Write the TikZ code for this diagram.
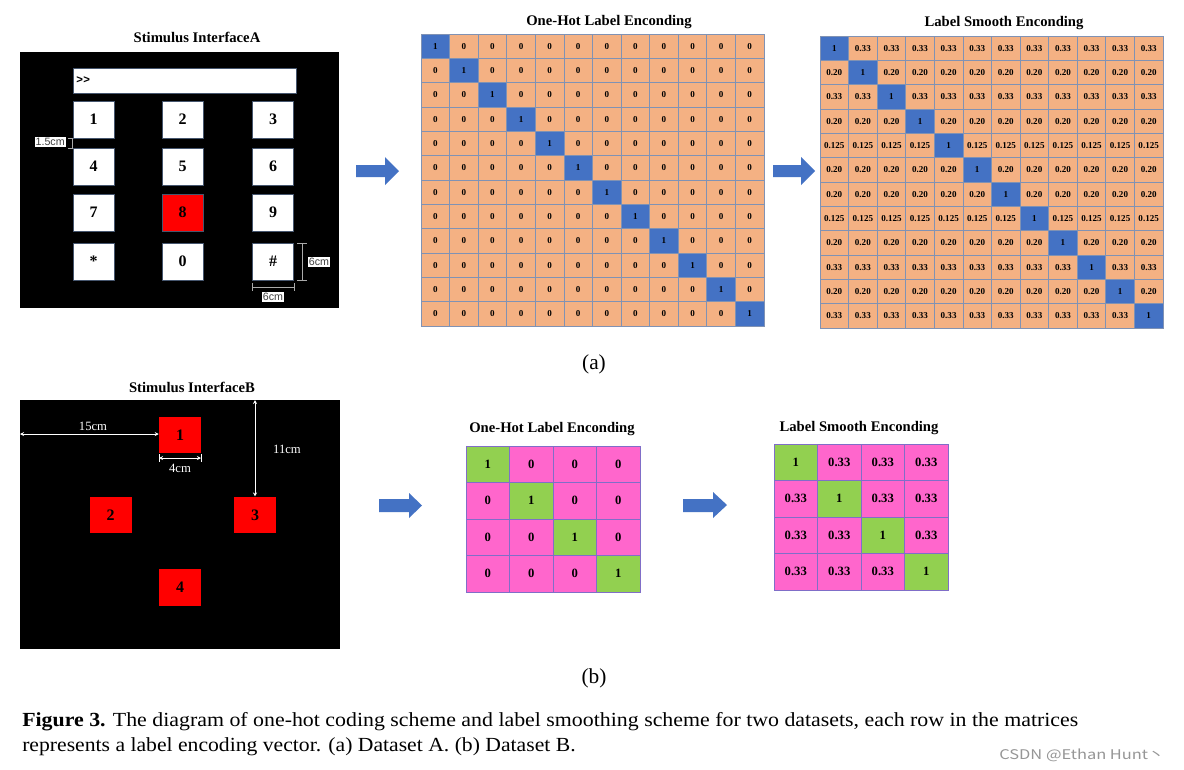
\documentclass[tikz,border=0pt]{standalone}
\usepackage{graphicx}
\usepackage{fontspec}
\setmainfont{Liberation Serif}
\setsansfont{Liberation Sans}
\newfontfamily\cjkfont{Noto Sans CJK SC}
\usetikzlibrary{arrows.meta}
\definecolor{orangeA}{HTML}{F4B183}
\definecolor{blueA}{HTML}{4472C4}
\definecolor{gridA}{RGB}{128,146,180}
\definecolor{pinkB}{RGB}{255,102,204}
\definecolor{greenB}{HTML}{92D050}
\definecolor{gridB}{RGB}{128,110,200}
\definecolor{keyedge}{RGB}{70,86,110}
\definecolor{arrowblue}{HTML}{4472C4}
\definecolor{dimgray}{RGB}{170,170,170}
\definecolor{wmgray}{RGB}{150,150,150}
\begin{document}
\begin{tikzpicture}[x=0.75pt,y=-0.75pt,
  panel/.style={fill=black,draw=none,inner sep=0pt,anchor=north west},
  title/.style={font=\fontsize{11}{13}\selectfont\bfseries,inner sep=0pt},
  keybox/.style={draw=keyedge,line width=0.5pt,minimum width=31pt,minimum height=28pt,inner sep=0pt,font=\fontsize{12}{14}\selectfont\bfseries},
  sqB/.style={fill=red,draw=none,minimum width=31.5pt,minimum height=27.4pt,inner sep=0pt,font=\fontsize{12}{14}\selectfont\bfseries},
  cellA/.style={draw=gridA,line width=0.5pt,minimum width=21.44pt,minimum height=18.25pt,inner sep=0pt,font=\fontsize{6.8}{7}\selectfont\bfseries},
  cellB/.style={draw=gridB,line width=0.5pt,minimum width=32.6pt,minimum height=27.4pt,inner sep=0pt,font=\fontsize{9.5}{11}\selectfont\bfseries},
  dimlabel/.style={fill=white,inner sep=0.8pt,font=\sffamily\fontsize{8}{9}\selectfont,text=black!75},
  dimline/.style={draw=dimgray,line width=0.6pt},
  wdim/.style={draw=white,line width=0.6pt,{Stealth[length=3pt,width=3pt]}-{Stealth[length=3pt,width=3pt]}},
  wlabel/.style={text=white,inner sep=0pt,font=\fontsize{9.5}{11}\selectfont},
  sublabel/.style={inner sep=0pt,font=\fontsize{16}{18}\selectfont},
  blockarrow/.style={fill=arrowblue,draw=none}
]
\useasboundingbox (0,0) rectangle (1184,769);
\fill[white] (0,0) rectangle (1184,769);

% ---------------- Interface A ----------------
\node[title] (titA) at (197,37) {Stimulus InterfaceA};
\node[panel,minimum width=239.25pt,minimum height=192pt] (ifA) at (20,52) {};
\node[fill=white,draw=keyedge,line width=0.5pt,anchor=north west,minimum width=167.25pt,minimum height=18.75pt,inner sep=0pt] (bar) at (73,68) {};
\node[anchor=west,inner sep=0pt,font=\sffamily\bfseries\fontsize{8.5}{9}\selectfont] (prompt) at (76,80.5) {>\kern0.3pt>};
\foreach \i/\lab/\x/\y/\f in {1/1/93.5/119.5/white,2/2/182.5/119.5/white,3/3/273/119.5/white,
  4/4/93.5/166.5/white,5/5/182.5/166.5/white,6/6/273/166.5/white,
  7/7/93.5/212.5/white,8/8/182.5/212.5/red,9/9/273/212.5/white,
  10/*/93.5/261.5/white,11/0/182.5/261.5/white,12/\#/273/261.5/white}
  \node[keybox,fill=\f] (key\i) at (\x,\y) {\lab};
% dimension marks
\draw[dimline] (68,138) -- (72,138) -- (72,148) -- (68,148);
\node[dimlabel,anchor=east] (l15) at (66,142) {1.5cm};
\draw[dimline] (297,243) -- (307,243) (302,243) -- (302,280) (297,280) -- (307,280);
\node[dimlabel] (l6v) at (319,262) {6cm};
\draw[dimline] (252,283) -- (252,291) (252,287) -- (294,287) (294,283) -- (294,291);
\node[dimlabel] (l6h) at (273,297) {6cm};

% arrows A
\fill[blockarrow] (356,165) -- (385,165) -- (385,157) -- (399,171) -- (385,185) -- (385,177) -- (356,177) -- cycle;
\fill[blockarrow] (773,165) -- (801,165) -- (801,157) -- (815,171) -- (801,185) -- (801,177) -- (773,177) -- cycle;

% ---------------- One-hot A ----------------
\node[title] (titOHA) at (609,22) {One-Hot Label Enconding};
\foreach \r in {1,...,12}{
  \foreach \c in {1,...,12}{
    \ifnum\r=\c \def\cf{blueA}\def\cv{1}\else\def\cf{orangeA}\def\cv{0}\fi
    \node[cellA,fill=\cf] (oha-\r-\c) at ({421+28.58*(\c-0.5)},{34+24.33*(\r-0.5)}) {\cv};
  }
}

% ---------------- Smooth A ----------------
\node[title] (titLSA) at (1004,23) {Label Smooth Enconding};
\foreach \r/\v in {1/0.33,2/0.20,3/0.33,4/0.20,5/0.125,6/0.20,7/0.20,8/0.125,9/0.20,10/0.33,11/0.20,12/0.33}{
  \foreach \c in {1,...,12}{
    \ifnum\r=\c \def\cf{blueA}\def\cv{1}\else\def\cf{orangeA}\def\cv{\v}\fi
    \node[cellA,fill=\cf] (lsa-\r-\c) at ({820+28.58*(\c-0.5)},{36+24.33*(\r-0.5)}) {\cv};
  }
}

\node[sublabel] (suba) at (594,364) {(a)};

% ---------------- Interface B ----------------
\node[title] (titB) at (192,387) {Stimulus InterfaceB};
\node[panel,minimum width=240pt,minimum height=186.75pt] (ifB) at (20,400) {};
\node[sqB] (sq1) at (180,435) {1};
\node[sqB] (sq2) at (110.5,515) {2};
\node[sqB] (sq3) at (255,515) {3};
\node[sqB] (sq4) at (180,587.5) {4};
\coordinate (d15a) at (20,434);
\draw[wdim] (d15a) -- (sq1.west |- d15a);
\node[wlabel] (l15cm) at (93,426) {15cm};
\coordinate (d4a) at (159,458);
\coordinate (d4b) at (201,458);
\draw[wdim] (d4a) -- (d4b);
\draw[draw=white,line width=0.6pt] (159,454) -- (159,462) (201,454) -- (201,462);
\node[wlabel] (l4cm) at (180,468) {4cm};
\draw[wdim] (ifB.north -| sq3) -- (sq3.north);
\node[wlabel] (l11cm) at (287,449) {11cm};

% arrows B
\fill[blockarrow] (379,499) -- (409,499) -- (409,493) -- (422,505.5) -- (409,518) -- (409,512) -- (379,512) -- cycle;
\fill[blockarrow] (683,499) -- (713,499) -- (713,492) -- (727,505) -- (713,518) -- (713,512) -- (683,512) -- cycle;

% ---------------- One-hot B ----------------
\node[title] (titOHB) at (552,429) {One-Hot Label Enconding};
\foreach \r in {1,...,4}{
  \foreach \c in {1,...,4}{
    \ifnum\r=\c \def\cf{greenB}\def\cv{1}\else\def\cf{pinkB}\def\cv{0}\fi
    \node[cellB,fill=\cf] (ohb-\r-\c) at ({466+43.5*(\c-0.5)},{446+36.5*(\r-0.5)}) {\cv};
  }
}

% ---------------- Smooth B ----------------
\node[title] (titLSB) at (859,428) {Label Smooth Enconding};
\foreach \r in {1,...,4}{
  \foreach \c in {1,...,4}{
    \ifnum\r=\c \def\cf{greenB}\def\cv{1}\else\def\cf{pinkB}\def\cv{0.33}\fi
    \node[cellB,fill=\cf] (lsb-\r-\c) at ({774+43.5*(\c-0.5)},{444+36.5*(\r-0.5)}) {\cv};
  }
}

\node[sublabel] (subb) at (594,678) {(b)};

% ---------------- Caption ----------------
\node[anchor=base west,inner sep=0pt] (cap1) at (22,726)
  {\resizebox{792pt}{\height}{\fontsize{15}{17}\selectfont\textbf{Figure 3.} The diagram of one-hot coding scheme and label smoothing scheme for two datasets, each row in the matrices}};
\node[anchor=base west,inner sep=0pt] (cap2) at (22,751)
  {\resizebox{415pt}{\height}{\fontsize{15}{17}\selectfont represents a label encoding vector. (a) Dataset A. (b) Dataset B.}};
\node[anchor=base west,inner sep=0pt,text=wmgray] (wm) at (999,759)
  {\resizebox{124pt}{\height}{\cjkfont\fontsize{10}{12}\selectfont CSDN @Ethan Hunt丶}};
\end{tikzpicture}
\end{document}
